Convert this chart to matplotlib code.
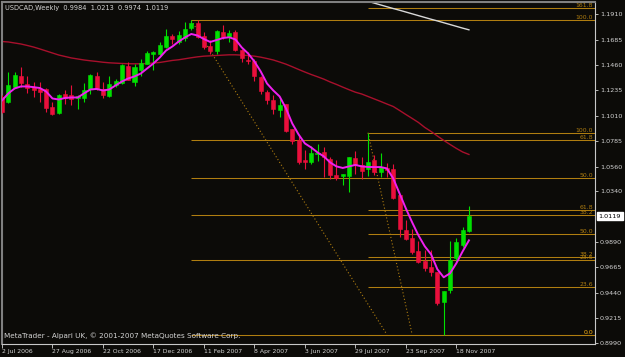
import numpy as np
import matplotlib.pyplot as plt
from matplotlib.transforms import blended_transform_factory

# USDCAD weekly bars, bar 0 = week of 2 Jul 2006
opens = [1.1173, 1.1129, 1.1265, 1.1362, 1.1295, 1.1265, 1.1244, 1.1250, 1.1087, 1.1034,
         1.1206, 1.1191, 1.1169, 1.1171, 1.1244, 1.1362, 1.1244, 1.1185, 1.1280, 1.1300,
         1.1457, 1.1309, 1.1413, 1.1472, 1.1561, 1.1561, 1.1620, 1.1723, 1.1670, 1.1703,
         1.1792, 1.1834, 1.1723, 1.1628, 1.1584, 1.1753, 1.1708, 1.1753, 1.1599, 1.1510,
         1.1495, 1.1353, 1.1220, 1.1155, 1.1058, 1.1111, 1.0889, 1.0792, 1.0614, 1.0599,
         1.0674, 1.0688, 1.0629, 1.0487, 1.0475, 1.0472, 1.0638, 1.0570, 1.0534, 1.0614,
         1.0510, 1.0543, 1.0540, 1.0303, 0.9993, 0.9928, 0.9806, 0.9718, 0.9667, 0.9623,
         0.9356, 0.9460, 0.9747, 0.9860, 0.9984]
highs = [1.1191, 1.1395, 1.1398, 1.1442, 1.1360, 1.1309, 1.1309, 1.1259, 1.1131, 1.1206,
         1.1235, 1.1286, 1.1191, 1.1300, 1.1384, 1.1398, 1.1309, 1.1368, 1.1333, 1.1472,
         1.1486, 1.1466, 1.1517, 1.1584, 1.1585, 1.1664, 1.1783, 1.1739, 1.1759, 1.1841,
         1.1857, 1.1857, 1.1753, 1.1685, 1.1768, 1.1821, 1.1768, 1.1768, 1.1605, 1.1575,
         1.1517, 1.1360, 1.1235, 1.1191, 1.1162, 1.1117, 1.0895, 1.0836, 1.0709, 1.0738,
         1.0762, 1.0732, 1.0643, 1.0614, 1.0496, 1.0645, 1.0697, 1.0643, 1.0860, 1.0658,
         1.0679, 1.0587, 1.0585, 1.0306, 1.0088, 1.0008, 0.9895, 0.9822, 0.9822, 0.9626,
         0.9453, 0.9895, 0.9928, 1.0022, 1.0213]
lows = [1.1031, 1.1120, 1.1259, 1.1265, 1.1211, 1.1176, 1.1131, 1.1043, 1.1013, 1.1029,
        1.1117, 1.1102, 1.1067, 1.1131, 1.1200, 1.1235, 1.1171, 1.1176, 1.1262, 1.1295,
        1.1324, 1.1273, 1.1362, 1.1466, 1.1413, 1.1546, 1.1614, 1.1650, 1.1652, 1.1679,
        1.1768, 1.1701, 1.1605, 1.1561, 1.1561, 1.1694, 1.1664, 1.1590, 1.1486, 1.1466,
        1.1318, 1.1206, 1.1117, 1.1029, 1.0998, 1.0865, 1.0762, 1.0585, 1.0540, 1.0585,
        1.0608, 1.0466, 1.0452, 1.0437, 1.0392, 1.0333, 1.0496, 1.0452, 1.0475, 1.0481,
        1.0466, 1.0466, 1.0274, 0.9933, 0.9904, 0.9780, 0.9703, 0.9632, 0.9585, 0.9327,
        0.9067, 0.9436, 0.9711, 0.9845, 0.9974]
closes = [1.1040, 1.1280, 1.1375, 1.1300, 1.1259, 1.1235, 1.1226, 1.1078, 1.1029, 1.1197,
          1.1171, 1.1162, 1.1182, 1.1242, 1.1375, 1.1244, 1.1191, 1.1295, 1.1318, 1.1463,
          1.1330, 1.1442, 1.1481, 1.1570, 1.1581, 1.1635, 1.1723, 1.1688, 1.1732, 1.1783,
          1.1833, 1.1710, 1.1620, 1.1584, 1.1762, 1.1708, 1.1747, 1.1597, 1.1526, 1.1495,
          1.1368, 1.1229, 1.1147, 1.1067, 1.1102, 1.0874, 1.0785, 1.0599, 1.0596, 1.0679,
          1.0682, 1.0643, 1.0487, 1.0461, 1.0490, 1.0643, 1.0570, 1.0519, 1.0599, 1.0510,
          1.0555, 1.0525, 1.0283, 1.0008, 0.9919, 0.9800, 0.9711, 0.9662, 0.9620, 0.9348,
          0.9451, 0.9733, 0.9889, 0.9993, 1.0119]

# moving averages
ma_fast = [1.1147, 1.1209, 1.1253, 1.1271, 1.1271, 1.1265, 1.1257, 1.1226, 1.1164, 1.1155,
           1.1169, 1.1173, 1.1173, 1.1209, 1.1244, 1.1249, 1.1235, 1.1244, 1.1280, 1.1315,
           1.1342, 1.1360, 1.1386, 1.1431, 1.1475, 1.1528, 1.1590, 1.1626, 1.1670, 1.1706,
           1.1737, 1.1723, 1.1692, 1.1666, 1.1683, 1.1701, 1.1708, 1.1688, 1.1617, 1.1564,
           1.1493, 1.1404, 1.1297, 1.1235, 1.1182, 1.1076, 1.0942, 1.0845, 1.0765, 1.0729,
           1.0685, 1.0650, 1.0596, 1.0561, 1.0547, 1.0561, 1.0574, 1.0561, 1.0556, 1.0555,
           1.0555, 1.0543, 1.0454, 1.0321, 1.0188, 1.0064, 0.9948, 0.9851, 0.9780, 0.9647,
           0.9576, 0.9611, 0.9700, 0.9806, 0.9904]
ma_slow = [1.1670, 1.1666, 1.1657, 1.1648, 1.1635, 1.1621, 1.1604, 1.1586, 1.1568, 1.1550,
           1.1537, 1.1524, 1.1515, 1.1506, 1.1499, 1.1493, 1.1486, 1.1481, 1.1478, 1.1475,
           1.1473, 1.1472, 1.1472, 1.1475, 1.1479, 1.1484, 1.1493, 1.1502, 1.1508, 1.1517,
           1.1526, 1.1534, 1.1540, 1.1543, 1.1546, 1.1549, 1.1552, 1.1552, 1.1549, 1.1546,
           1.1540, 1.1531, 1.1519, 1.1506, 1.1488, 1.1469, 1.1446, 1.1422, 1.1399, 1.1377,
           1.1357, 1.1336, 1.1311, 1.1289, 1.1265, 1.1242, 1.1220, 1.1204, 1.1182, 1.1160,
           1.1138, 1.1115, 1.1093, 1.1058, 1.1022, 1.0987, 1.0951, 1.0907, 1.0871, 1.0831,
           1.0792, 1.0756, 1.0721, 1.0689, 1.0667]
ma_long_from = 57
ma_long = [1.2043, 1.2027, 1.2011, 1.1995, 1.1979, 1.1963, 1.1948, 1.1932, 1.1916,
           1.1900, 1.1884, 1.1868, 1.1853, 1.1837, 1.1821, 1.1805, 1.1789, 1.1774]

# fibonacci objects: (bar1, price1 = 100%, bar2, price2 = 0%)
fib_levels = [0.0, 23.6, 38.2, 50.0, 61.8, 100.0, 161.8]
fib_a = (30, 1.1857, 61, 0.9067)
fib_b = (58, 1.0860, 65, 0.9067)

date_pos = [0, 8, 16, 24, 32, 40, 48, 56, 64, 72]
date_labels = ['2 Jul 2006', '27 Aug 2006', '22 Oct 2006', '17 Dec 2006', '11 Feb 2007',
               '8 Apr 2007', '3 Jun 2007', '29 Jul 2007', '23 Sep 2007', '18 Nov 2007']
price_ticks = [1.1910, 1.1685, 1.1460, 1.1235, 1.1010, 1.0785, 1.0560, 1.0340,
               0.9890, 0.9665, 0.9440, 0.9215, 0.8990]
title = 'USDCAD,Weekly  0.9984  1.0213  0.9974  1.0119'
footer = 'MetaTrader - Alpari UK, \u00a9 2001-2007 MetaQuotes Software Corp.'

BG = '#0c0b08'
FG = '#d4d4d4'
BULL = '#00e000'
BEAR = '#ea0f3c'
FIB = '#b07e10'

W, H = 625, 357
fig = plt.figure(figsize=(W / 100, H / 100), dpi=100, facecolor=BG)
ax = fig.add_axes([2 / W, 13.5 / H, 593 / W, 341.5 / H], facecolor=BG)

o = np.array(opens); c = np.array(closes)
hi = np.array(highs); lo = np.array(lows)
idx = np.arange(len(o))
col = np.where(c >= o, BULL, BEAR)

ax.vlines(idx, lo, hi, colors=col, lw=0.8, zorder=3)
ax.bar(idx, np.abs(c - o), bottom=np.minimum(o, c), width=0.64, color=col,
       edgecolor=col, lw=0.4, zorder=4)

ax.plot(idx, ma_slow, color='#a8102c', lw=1.0, zorder=2)
ax.plot(idx, ma_fast, color='#f020f0', lw=1.4, zorder=5)
ax.plot(np.arange(ma_long_from, ma_long_from + len(ma_long)), ma_long,
        color='#d8d8d8', lw=1.0, zorder=2)

xmax = 593 / 6.31
tr = blended_transform_factory(ax.transAxes, ax.transData)
for t1, p1, t2, p2 in [fib_a, fib_b]:
    ax.plot([t1, t2], [p1, p2], color=FIB, lw=0.8, ls=(0, (1, 2)), zorder=1)
    for lv in fib_levels:
        p = p2 + (p1 - p2) * lv / 100
        ax.hlines(p, min(t1, t2), xmax, color=FIB, lw=0.75, zorder=1)
        ax.text(0.997, p, f'{lv:.1f}', transform=tr, color=FIB, fontsize=4.4,
                ha='right', va='bottom', zorder=1, clip_on=True)

ax.set_xlim(0, xmax)
ax.set_ylim(0.8988, 1.2021)

ax.yaxis.tick_right()
ax.set_yticks(price_ticks)
ax.set_yticklabels([f'{v:.4f}' for v in price_ticks])
ax.set_xticks(date_pos)
ax.set_xticklabels(date_labels)
for lab in ax.get_xticklabels():
    lab.set_ha('left')
ax.tick_params(axis='y', colors=FG, labelsize=4.6, length=2, width=0.6, pad=1.5)
ax.tick_params(axis='x', colors=FG, labelsize=4.4, length=3, width=0.6, pad=1)

for s in ['left', 'top']:
    ax.spines[s].set_color('#808080')
    ax.spines[s].set_linewidth(1.5)
for s in ['right', 'bottom']:
    ax.spines[s].set_color('#c8c8c8')
    ax.spines[s].set_linewidth(0.8)

ax.text(1.006, closes[-1], f'{closes[-1]:.4f}', transform=tr, color='black', fontsize=4.6,
        ha='left', va='center', clip_on=False,
        bbox=dict(boxstyle='square,pad=0.25', fc='white', ec='white'))

fig.text(5 / W, 1 - 8 / H, title, color=FG, fontsize=4.8, va='center', ha='left')
fig.text(4 / W, 1 - 336 / H, footer, color=FG, fontsize=5.2, va='center', ha='left')

fig.savefig('out.png', dpi=100, facecolor=BG)
